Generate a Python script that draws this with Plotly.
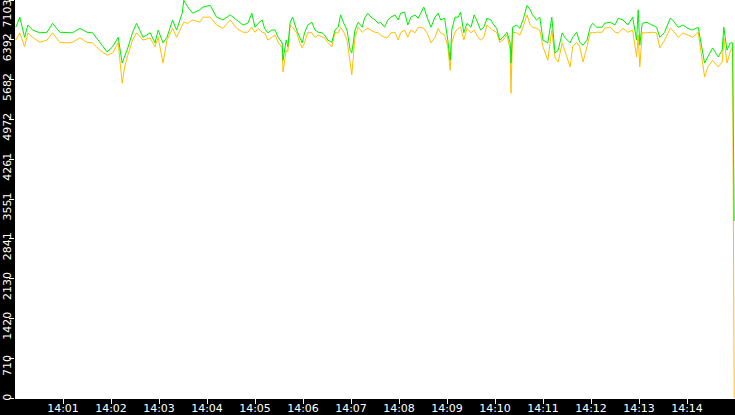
import pandas as pd
import plotly.graph_objects as go

# seconds after 14:00:00
secs = [1, 6, 12, 16, 22, 31, 40, 47, 56, 65, 72, 81, 90, 97, 106, 115, 122, 129, 134, 137,
        141, 147, 152, 160, 169, 175, 179, 185, 190, 197, 202, 209, 211, 216, 222, 231, 235, 244, 252, 260,
        269, 277, 285, 291, 296, 300, 304, 309, 312, 316, 321, 325, 329, 334, 335, 339, 341, 344, 347, 352,
        356, 359, 362, 366, 371, 375, 379, 384, 387, 391, 396, 400, 404, 407, 411, 415, 419, 421, 425, 429,
        434, 437, 441, 445, 450, 454, 457, 462, 466, 470, 475, 479, 482, 487, 491, 495, 500, 504, 507, 511,
        515, 520, 525, 529, 532, 537, 541, 544, 546, 550, 554, 557, 561, 565, 570, 574, 577, 582, 586, 590,
        595, 597, 602, 606, 610, 615, 619, 620, 622, 627, 631, 635, 640, 644, 647, 652, 656, 660, 666, 671,
        675, 679, 684, 687, 694, 697, 702, 706, 710, 715, 719, 722, 727, 734, 737, 744, 750, 754, 760, 766,
        772, 777, 779, 781, 784, 790, 796, 802, 806, 812, 819, 822, 829, 835, 841, 847, 854, 859, 862, 866,
        872, 879, 884, 886, 890, 894, 897, 899]

green = [6620, 6800, 6440, 6660, 6570, 6520, 6530, 6690, 6530, 6520, 6520, 6600, 6530, 6520, 6340, 6180, 6270, 6440, 5980, 6090,
         6250, 6530, 6690, 6440, 6520, 6340, 6570, 6340, 6440, 6750, 6570, 6870, 7100, 6980, 6870, 6930, 6980, 7010, 6800, 6750,
         6840, 6750, 6660, 6690, 6870, 6620, 6690, 6750, 6600, 6520, 6570, 6570, 6440, 6340, 6030, 6390, 6270, 6710, 6800, 6570,
         6440, 6340, 6520, 6660, 6710, 6570, 6530, 6520, 6480, 6390, 6350, 6570, 6620, 6840, 6690, 6570, 6210, 6160, 6570, 6710,
         6620, 6780, 6870, 6800, 6750, 6690, 6710, 6620, 6750, 6800, 6840, 6750, 6870, 6890, 6660, 6800, 6840, 6780, 6870, 6980,
         6800, 6620, 6800, 6870, 6750, 6780, 6390, 6030, 6570, 6800, 6800, 6890, 6520, 6690, 6620, 6840, 6750, 6570, 6620, 6780,
         6750, 6690, 6600, 6390, 6440, 6530, 6340, 5980, 6620, 6660, 6600, 6750, 7010, 6930, 6840, 6750, 6800, 6390, 6340, 6800,
         6160, 6210, 6520, 6440, 6340, 6440, 6530, 6350, 6300, 6390, 6620, 6690, 6620, 6620, 6690, 6710, 6660, 6780, 6750, 6660,
         6800, 6390, 6930, 6300, 6690, 6710, 6660, 6620, 6440, 6530, 6780, 6750, 6620, 6660, 6600, 6570, 6620, 6210, 5980, 6090,
         6250, 6090, 6210, 6620, 6210, 6340, 6340, 3160]

yellow = [6390, 6520, 6270, 6520, 6440, 6350, 6390, 6520, 6350, 6340, 6350, 6430, 6350, 6340, 6210, 6120, 6160, 6340, 5620, 5910,
          6120, 6390, 6520, 6390, 6430, 6270, 6440, 5980, 6390, 6600, 6440, 6660, 6710, 6690, 6750, 6710, 6800, 6800, 6660, 6600,
          6750, 6600, 6530, 6530, 6620, 6530, 6600, 6530, 6520, 6390, 6440, 6480, 6350, 6250, 5820, 6210, 6180, 6660, 6620, 6520,
          6340, 6250, 6340, 6530, 6520, 6440, 6480, 6440, 6430, 6350, 6270, 6520, 6520, 6620, 6530, 6390, 5910, 5770, 6440, 6620,
          6530, 6570, 6600, 6570, 6530, 6520, 6480, 6440, 6440, 6520, 6530, 6390, 6520, 6570, 6440, 6570, 6520, 6620, 6620, 6600,
          6520, 6340, 6440, 6600, 6520, 6480, 6270, 5850, 6340, 6530, 6600, 6620, 6390, 6600, 6520, 6570, 6480, 6390, 6440, 6660,
          6600, 6570, 6530, 6350, 6390, 6480, 6210, 5440, 6530, 6520, 6480, 6620, 6840, 6660, 6620, 6600, 6570, 6270, 6030, 6570,
          6070, 6000, 6340, 6210, 5910, 6270, 6350, 6270, 6000, 6270, 6520, 6520, 6530, 6530, 6600, 6620, 6530, 6520, 6600, 6530,
          6570, 6090, 6480, 5910, 6520, 6520, 6530, 6520, 6250, 6390, 6600, 6570, 6440, 6520, 6480, 6440, 6530, 6030, 5730, 5910,
          6030, 5910, 6000, 6430, 5980, 6180, 6270, 0]

y_ticks = [0, 710, 1420, 2130, 2841, 3551, 4261, 4972, 5682, 6392, 7103]
x_ticks = ["14:01", "14:02", "14:03", "14:04", "14:05", "14:06", "14:07",
           "14:08", "14:09", "14:10", "14:11", "14:12", "14:13", "14:14"]

start = pd.Timestamp("2024-01-01 14:00:00")
times = start + pd.to_timedelta(secs, unit="s")
tick_times = [pd.Timestamp("2024-01-01 " + t) for t in x_ticks]
y_range = [0, 7106]

fig = go.Figure()

fig.add_trace(go.Scatter(x=times, y=yellow, mode='lines',
                         line=dict(color='#ffc000', width=1), hoverinfo='skip'))
fig.add_trace(go.Scatter(x=times, y=green, mode='lines',
                         line=dict(color='#00ee00', width=1), hoverinfo='skip'))
# empty traces so the two label-only axes get drawn
fig.add_trace(go.Scatter(x=[start], y=[None], yaxis='y2', mode='lines', hoverinfo='skip'))
fig.add_trace(go.Scatter(x=[start], y=[None], yaxis='y3', mode='lines', hoverinfo='skip'))

fig.update_layout(
    width=735, height=415,
    margin=dict(l=15, r=0, t=0, b=17, autoexpand=False),
    paper_bgcolor='black', plot_bgcolor='white',
    showlegend=False,
    font=dict(family='DejaVu Sans', size=11, color='white')
)

fig.update_xaxes(
    type='date', automargin=False,
    range=[start, start + pd.Timedelta(minutes=15)],
    tickvals=tick_times, ticktext=x_ticks,
    ticks='outside', ticklen=5, tickcolor='white',
    ticklabelstandoff=-5,
    showline=True, linecolor='white', linewidth=1,
    showgrid=False, zeroline=False
)

# main y axis: all tick marks, labels sit just below their tick
mid_text = [''] + [str(v) for v in y_ticks[1:-1]] + ['']
fig.update_layout(yaxis=dict(
    automargin=False, range=y_range,
    tickvals=y_ticks, ticktext=mid_text,
    tickangle=-90, ticks='outside', ticklen=5, tickcolor='white',
    ticklabelshift=9, ticklabelstandoff=-6, ticklabeloverflow='allow',
    showline=False, showgrid=False, zeroline=False
))

# end labels are kept inside the plot height like the original
end_axis = dict(overlaying='y', side='left', automargin=False, range=y_range,
                tickangle=-90, ticks='outside', ticklen=5, tickcolor='white',
                ticklabelstandoff=-6, ticklabeloverflow='allow',
                showline=False, showgrid=False, zeroline=False,
                tickfont=dict(family='DejaVu Sans', size=11, color='white'))
fig.update_layout(
    yaxis2=dict(end_axis, tickvals=y_ticks[-1:], ticktext=[str(y_ticks[-1])], ticklabelshift=15),
    yaxis3=dict(end_axis, tickvals=y_ticks[:1], ticktext=[str(y_ticks[0])], ticklabelshift=1),
)

# page has a default 8px body margin, drop it so the figure sits at 0,0
fig.write_html("out.html", config=dict(displayModeBar=False),
               post_script="document.body.style.margin='0';document.body.style.overflow='hidden';")
